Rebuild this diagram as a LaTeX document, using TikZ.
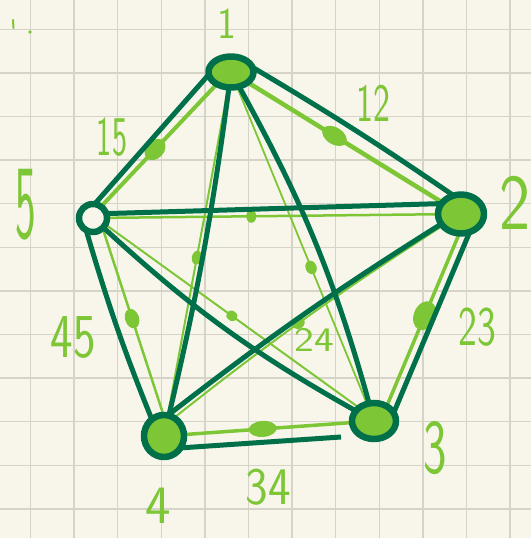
\documentclass[tikz,border=0pt]{standalone}
\usetikzlibrary{calc,shapes.geometric}
\definecolor{paper}{RGB}{248,246,235}
\definecolor{gridgray}{RGB}{214,211,200}
\definecolor{dkgreen}{RGB}{0,112,74}
\definecolor{ltgreen}{RGB}{125,198,54}
\pgfdeclarelayer{grid}
\pgfdeclarelayer{edges}
\pgfsetlayers{grid,edges,main}

\begin{document}
\begin{tikzpicture}[x=1pt,y=-1pt,line cap=round,line join=round,
  vtx/.style={ellipse,draw=dkgreen,fill=ltgreen,line width=6.5pt,inner sep=0pt},
  dk/.style={draw=dkgreen,line width=5pt},
  lt/.style={draw=ltgreen,line width=#1},
  lt/.default=2pt,
  middot/.style={ellipse,fill=ltgreen,inner sep=0pt,sloped},
  lbl/.style={text=ltgreen,inner sep=0pt,font=\sffamily\fontsize{#1}{#1}\selectfont},
  gridline/.style={draw=gridgray,line width=1.5pt}]
\useasboundingbox (0,0) rectangle (531,538);

% squared paper
\begin{pgfonlayer}{grid}
\fill[paper] (0,0) rectangle (531,538);
\foreach \i in {0,...,11} {
  \draw[gridline] ({30.5+43.6*\i},0) -- ({30.5+43.6*\i},538);
  \draw[gridline] (0,{29.3+43.6*\i}) -- (531,{29.3+43.6*\i});
}
\end{pgfonlayer}

% vertices
\node[vtx,minimum width=45pt,minimum height=31pt] (v1) at (231,72) {};
\node[vtx,minimum width=46pt,minimum height=39pt] (v2) at (461,214) {};
\node[vtx,minimum width=44pt,minimum height=36pt] (v3) at (374,421) {};
\node[vtx,minimum width=40pt,minimum height=42pt] (v4) at (164,436) {};
\node[vtx,fill=paper,minimum width=28pt,minimum height=28pt] (v5) at (93,218) {};
\coordinate (e34) at (341,437);

\begin{pgfonlayer}{edges}
% light edges with their middle points
\draw[lt=4.5pt] (v1.center) -- node[middot,minimum width=27pt,minimum height=17pt,pos=0.45] (m12) {} (v2.center);
\draw[lt=4pt] ($(v1.center)!2pt!-90:(v5.center)$) -- node[middot,minimum width=24pt,minimum height=18pt,pos=0.54] (m15) {} ($(v5.center)!2pt!90:(v1.center)$);
\draw[lt=3.5pt] ($(v2.center)!6pt!90:(v3.center)$) -- node[middot,minimum width=30pt,minimum height=22pt,pos=0.48] (m23) {} ($(v3.center)!6pt!-90:(v2.center)$);
\draw[lt=3.5pt] (v3.center) -- node[middot,minimum width=28pt,minimum height=16pt,pos=0.53] (m34) {} (v4.center);
\draw[lt=2.5pt] ($(v4.center)!6pt!-90:(v5.center)$) -- node[middot,minimum width=20pt,minimum height=14pt,pos=0.53] (m45) {} ($(v5.center)!6pt!90:(v4.center)$);
\draw[lt=2.5pt] (v2.center) -- node[middot,minimum width=10pt,minimum height=13pt,pos=0.57] (m25) {} (v5.center);
\draw[lt=1.8pt] (v1.center) -- node[middot,minimum width=14pt,minimum height=11pt,pos=0.56] (m13) {} (v3.center);
\draw[lt] (v1.center) -- node[middot,minimum width=14pt,minimum height=10pt,pos=0.51] (m14) {} (v4.center);
\draw[lt] (v2.center) to[bend right=3] node[middot,minimum width=13pt,minimum height=11pt,pos=0.53] (m24) {} ($(v4.center)!8pt!90:(v2.center)$);
\draw[lt] ($(v5.center)!2pt!90:(v3.center)$) -- node[middot,minimum width=12pt,minimum height=10pt,pos=0.49] (m35) {} ($(v3.center)!2pt!-90:(v5.center)$);

% dark edges
\draw[dk] ($(v1.center)!15pt!90:(v2.center)$) to[bend left=2] ($(v2.center)!11pt!-90:(v1.center)$);
\draw[dk] ($(v2.center)!15pt!90:(v3.center)$) -- ($(v3.center)!15pt!-90:(v2.center)$);
\draw[dk] ($(v4.center)!13pt!-90:(v3.center)$) -- (e34);
\draw[dk] ($(v4.center)!5pt!90:(v5.center)$) to[bend left=3] ($(v5.center)!10pt!-90:(v4.center)$);
\draw[dk] ($(v5.center)!8pt!90:(v1.center)$) -- ($(v1.center)!15pt!-90:(v5.center)$);
\draw[dk] ($(v2.center)!11pt!-90:(v5.center)$) -- ($(v5.center)!4pt!90:(v2.center)$);
\draw[dk] (v1.center) to[bend left=7] (v3.center);
\draw[dk] (v1.center) to[bend left=3] (v4.center);
\draw[dk] ($(v2.center)!2pt!-90:(v4.center)$) to[bend right=3] ($(v4.center)!14pt!90:(v2.center)$);
\draw[dk] (v5.center) to[bend right=7] (v3.center);
\end{pgfonlayer}

% labels
\node[lbl=40,yscale=1.1] (l1) at (227,24) {1};
\node[lbl=66,yscale=1.2] (l2) at (515,203) {2};
\node[lbl=50,yscale=1.55] (l3) at (435,448) {3};
\node[lbl=54,yscale=1.0] (l4) at (158,506) {4};
\node[lbl=44,yscale=2.4] (l5) at (26,205) {5};
\node[lbl=36,yscale=1.5] (l12) at (373,103) {12};
\node[lbl=32,yscale=1.75] (l15) at (112,137) {15};
\node[lbl=48,yscale=1.3] (l45) at (73,338) {45};
\node[lbl=40,yscale=1.4] (l23) at (477,327) {23};
\node[lbl=42,yscale=0.82] (l24) at (314,340) {24};
\node[lbl=48,yscale=1.1] (l34) at (268,487) {34};
\draw[lt] (13,20) -- (13.5,28);
\fill[ltgreen] (30,32) circle (1.8pt);
\end{tikzpicture}
\end{document}
